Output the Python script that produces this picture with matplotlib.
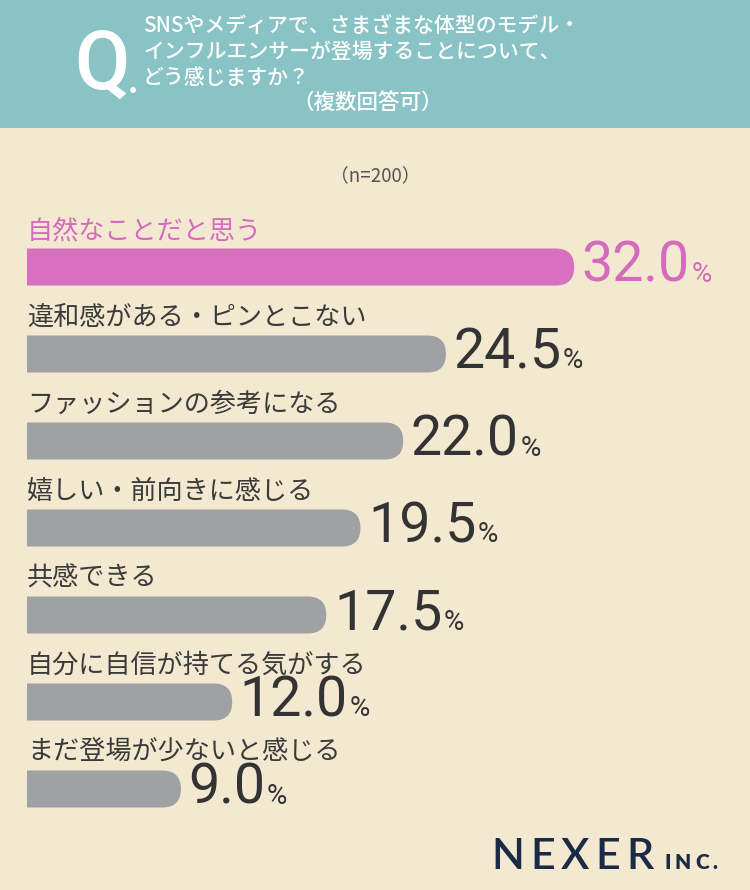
import matplotlib
matplotlib.use('Agg')
import matplotlib.pyplot as plt
from matplotlib.patches import FancyBboxPatch, Rectangle
from matplotlib import font_manager

categories = ["自然なことだと思う", "違和感がある・ピンとこない", "ファッションの参考になる",
              "嬉しい・前向きに感じる", "共感できる", "自分に自信が持てる気がする",
              "まだ登場が少ないと感じる"]
values = [32.0, 24.5, 22.0, 19.5, 17.5, 12.0, 9.0]
title_lines = ["SNSやメディアで、さまざまな体型のモデル・",
               "インフルエンサーが登場することについて、",
               "どう感じますか？"]
subtitle = "（複数回答可）"
sample_note = "（n=200）"
brand = "NEXER"
brand_suffix = "INC."

W, H = 750, 890
BG = '#F3E9D1'
TEAL = '#89C3C5'
PINK = '#D870C0'
PINK_TXT = '#D46BBD'
GRAY = '#A0A1A5'
DARK = '#333333'
LABEL = '#3A3A3A'
NAVY = '#1B2B45'
JP = ['Noto Sans CJK JP', 'DejaVu Sans']

names = {f.name for f in font_manager.fontManager.ttflist}
Q_FAMILY = 'Liberation Sans Narrow' if 'Liberation Sans Narrow' in names else 'Roboto'

fig = plt.figure(figsize=(7.5, 8.9), dpi=100, facecolor=BG)


def fx(px):
    return px / W


def fy(py):
    return 1 - py / H


fig.canvas.draw()
renderer = fig.canvas.get_renderer()

# header band
fig.add_artist(Rectangle((0, fy(128)), 1, 128 / H, transform=fig.transFigure,
                         facecolor=TEAL, edgecolor='none', zorder=0))
if Q_FAMILY == 'Roboto':
    fig.text(fx(74), fy(89), "Q", fontsize=58, color='white', family='Roboto',
             weight='medium', va='baseline', ha='left')
else:
    fig.text(fx(75), fy(89), "Q", fontsize=74, color='white', family=Q_FAMILY,
             weight='bold', va='baseline', ha='left')
fig.text(fx(128), fy(93), ".", fontsize=26, color='white', family='Roboto',
         weight='bold', va='baseline', ha='left')
for j, line in enumerate(title_lines):
    fig.text(fx(143), fy(26 + 26 * j), line, fontsize=15, color='white',
             family=JP, weight='medium', va='center', ha='left')
fig.text(fx(292), fy(104), subtitle, fontsize=15.5, color='white',
         family=JP, weight='medium', va='center', ha='left')

fig.text(0.5, fy(176), sample_note, fontsize=13.5, color='#555555', family=JP,
         va='center', ha='center')

# bars
k = 17.1          # pixels per percent
row_px = 87.0     # pixels per row
left_px = 27
ax = fig.add_axes([fx(left_px), fy(267 + 6 * row_px + row_px / 2),
                   1 - fx(left_px), 7 * row_px / H])
ax.set_xlim(0, (W - left_px) / k)
ax.set_ylim(6.5, -0.5)
ax.axis('off')
ax.patch.set_alpha(0)

aspect = k / row_px
bar_h = 37 / row_px
base_off = 4 / row_px

for i, (cat, v) in enumerate(zip(categories, values)):
    col = PINK if i == 0 else GRAY
    tcol = PINK_TXT if i == 0 else DARK
    p = FancyBboxPatch((-3, i - bar_h / 2), v + 3, bar_h,
                       boxstyle=f"round,pad=0,rounding_size={bar_h / 2 / aspect}",
                       mutation_aspect=aspect, facecolor=col, edgecolor='none')
    ax.add_patch(p)
    ax.text(0.0, i - 0.42, cat, fontsize=18.8, color=PINK_TXT if i == 0 else LABEL,
            family=JP, va='center', ha='left')
    t = ax.annotate(f"{v:.1f}", xy=(v, i + bar_h / 2 - base_off), xytext=(5.5, 0),
                    textcoords='offset points', fontsize=40, family='Roboto',
                    weight='normal', color=tcol, va='baseline', ha='left')
    wpt = t.get_window_extent(renderer).width * 72 / 100
    ax.annotate("%", xy=(v, i + bar_h / 2 - base_off), xytext=(5.5 + wpt + 1.0, 0),
                textcoords='offset points', fontsize=20, family='Roboto',
                color=tcol, va='baseline', ha='left')

# brand
x = 491
for ch in brand:
    t = fig.text(fx(x), fy(869), ch, fontsize=31, family='Lato', weight='semibold',
                 color=NAVY, va='baseline', ha='left')
    x += t.get_window_extent(renderer).width + 6
x += 5
for ch in brand_suffix:
    t = fig.text(fx(x), fy(869), ch, fontsize=15, family='Lato', weight='heavy',
                 color=NAVY, va='baseline', ha='left')
    x += t.get_window_extent(renderer).width + 4

fig.savefig('out.png', dpi=100, facecolor=BG)
